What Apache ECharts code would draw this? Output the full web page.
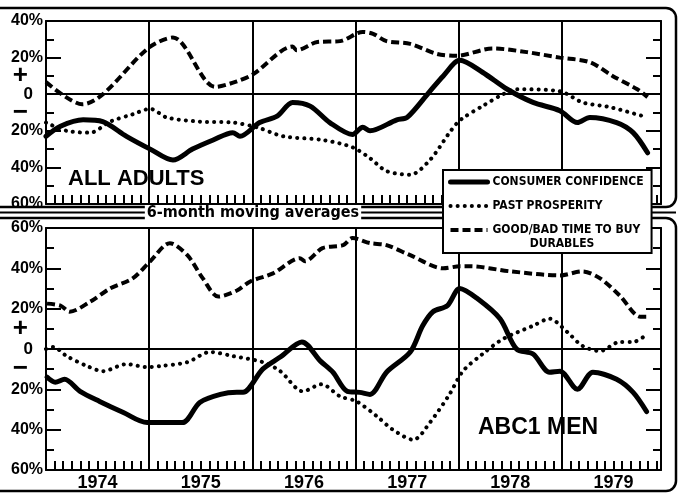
<!DOCTYPE html>
<html>
<head>
<meta charset="utf-8">
<script src="https://cdn.jsdelivr.net/npm/echarts/dist/echarts.min.js"></script>
<style>html,body{margin:0;padding:0;background:#fff}#c{width:694px;height:504px}</style>
</head>
<body>
<div id="c"></div>
<script>
// ---------- data (decimal year, percent balance) ----------
const years = ['1974', '1975', '1976', '1977', '1978', '1979'];
const seriesNames = ['CONSUMER CONFIDENCE', 'PAST PROSPERITY', 'GOOD/BAD TIME TO BUY'];
const yTicksTop = [-60, 40];
const yTicksBottom = [-60, 60];

const adultsConfidence = [[1974.0,-23],[1974.14,-17.5],[1974.36,-14],[1974.55,-15],[1974.78,-23],[1975.01,-30],[1975.23,-36],[1975.42,-30],[1975.62,-25],[1975.81,-21],[1975.88,-23],[1976.07,-15.5],[1976.24,-12],[1976.39,-4.5],[1976.56,-6.5],[1976.75,-15.5],[1976.97,-22],[1977.07,-18],[1977.14,-20],[1977.40,-14],[1977.50,-12.7],[1977.72,1.6],[1977.85,10],[1978.01,18.5],[1978.23,12],[1978.47,2.7],[1978.72,-4.5],[1978.98,-9],[1979.15,-15.5],[1979.27,-12.7],[1979.53,-15.5],[1979.69,-21],[1979.83,-32]];
const adultsProsperity = [[1974.0,-15.5],[1974.20,-20],[1974.43,-21],[1974.62,-15],[1974.84,-11],[1975.01,-8],[1975.17,-12.7],[1975.49,-15],[1975.81,-15.5],[1976.04,-18],[1976.30,-23],[1976.68,-25],[1976.97,-29],[1977.14,-35],[1977.30,-42],[1977.53,-44],[1977.72,-36],[1977.91,-21],[1977.98,-16],[1978.04,-13],[1978.23,-6.5],[1978.43,0],[1978.56,2.7],[1978.98,1.6],[1979.20,-4.5],[1979.46,-7],[1979.83,-12.7]];
const adultsDurables = [[1974.0,6.6],[1974.35,-5.5],[1975.01,26],[1975.23,31],[1975.64,4],[1975.85,7],[1976.01,11],[1976.39,26],[1976.43,24],[1976.63,28.5],[1976.85,29],[1977.07,34],[1977.17,33],[1977.30,29],[1977.53,27.5],[1977.79,22],[1977.98,21],[1978.33,25],[1978.66,23],[1978.98,20],[1979.27,17.5],[1979.49,10],[1979.73,2.7],[1979.83,-1.6]];

const menConfidence = [[1974.01,-14],[1974.09,-16.5],[1974.18,-15],[1974.33,-21],[1974.52,-26],[1974.75,-31.5],[1974.98,-36.5],[1975.32,-36.5],[1975.49,-26.5],[1975.69,-22.5],[1975.85,-21.5],[1975.91,-21.5],[1976.10,-10],[1976.27,-4],[1976.48,3.5],[1976.66,-6],[1976.78,-11.5],[1976.92,-21],[1977.04,-21.5],[1977.14,-22.5],[1977.30,-11.5],[1977.53,-1.5],[1977.65,11.5],[1977.75,18.5],[1977.89,21.5],[1978.01,30],[1978.18,25],[1978.40,15],[1978.56,0],[1978.72,-2.5],[1978.88,-11.5],[1978.98,-11],[1979.15,-20],[1979.30,-11.5],[1979.53,-15],[1979.69,-21.5],[1979.82,-31]];
const menProsperity = [[1974.0,0],[1974.07,1],[1974.20,-3.5],[1974.40,-8.5],[1974.55,-11],[1974.78,-7.5],[1974.98,-9],[1975.10,-8.5],[1975.37,-6.5],[1975.59,-1.5],[1975.81,-3.5],[1976.10,-6.5],[1976.27,-11],[1976.49,-21],[1976.67,-17.5],[1976.85,-23.5],[1977.01,-26],[1977.21,-33.5],[1977.36,-40],[1977.56,-45],[1977.72,-36.5],[1977.91,-22.5],[1978.04,-11],[1978.23,-2.5],[1978.43,5],[1978.72,11.5],[1978.88,15],[1979.05,8.5],[1979.20,1.5],[1979.37,-1],[1979.56,3.5],[1979.69,3.5],[1979.83,7.5]];
const menDurables = [[1974.01,22.5],[1974.14,21.5],[1974.23,18.5],[1974.43,23.5],[1974.62,30],[1974.84,35],[1975.01,43.5],[1975.20,52.5],[1975.37,46.5],[1975.52,35],[1975.67,26],[1975.85,29],[1975.98,33.5],[1976.20,37.5],[1976.46,45],[1976.51,43.5],[1976.68,50],[1976.88,51.5],[1976.97,55],[1977.14,52.5],[1977.30,51.5],[1977.53,46.5],[1977.85,40],[1978.01,41],[1978.11,41],[1978.50,38.5],[1978.98,36.5],[1979.20,38.5],[1979.37,35],[1979.56,26.5],[1979.76,16],[1979.83,16]];

// ---------- styling ----------
const BOLD = '"Liberation Sans", Arial, sans-serif';
const NARROW = '"Liberation Sans Narrow", "DejaVu Sans Condensed", "Arial Narrow", sans-serif';
const INK = '#000';
const xMin = 1974, xMax = 1979.96;

const solidStyle = {color: INK, width: 5, cap: 'round', join: 'round'};
const dottedStyle = {color: INK, width: 4, type: [0.1, 7], cap: 'round'};
const dashedStyle = {color: INK, width: 4, type: [8, 4]};

function baseX(gi) {
  return {type: 'value', gridIndex: gi, min: xMin, max: xMax, interval: 1, position: 'bottom',
    axisLine: {show: true, onZero: false, lineStyle: {color: INK, width: 2}},
    axisTick: {show: false, inside: true},
    minorTick: {show: true, splitNumber: 12, length: 9, lineStyle: {color: INK, width: 2}},
    axisLabel: {show: false},
    splitLine: {show: true, lineStyle: {color: INK, width: 2}}};
}
function topX(gi) {
  return {type: 'value', gridIndex: gi, min: xMin, max: xMax, position: 'top',
    axisLine: {show: true, onZero: false, lineStyle: {color: INK, width: 2}},
    axisTick: {show: false}, axisLabel: {show: false}, splitLine: {show: false}};
}
function yearX(gi) {
  return {type: 'value', gridIndex: gi, min: xMin, max: xMax, interval: 0.5, position: 'bottom',
    axisLine: {show: false, onZero: false}, axisTick: {show: false}, splitLine: {show: false},
    axisLabel: {show: true, margin: 4, color: INK, fontFamily: BOLD, fontWeight: 'bold', fontSize: 18,
      formatter: v => Math.abs(v - Math.floor(v) - 0.5) < 0.01 ? years[Math.floor(v) - 1974] : ''}};
}
function leftY(gi, ext) {
  return {type: 'value', gridIndex: gi, min: ext[0], max: ext[1], interval: 20, position: 'left',
    axisLine: {show: true, onZero: false, lineStyle: {color: INK, width: 2}},
    axisTick: {show: true, inside: true, length: 15, lineStyle: {color: INK, width: 2}},
    minorTick: {show: true, splitNumber: 2, length: 8, lineStyle: {color: INK, width: 2}},
    splitLine: {show: false},
    axisLabel: {show: true, margin: 3, color: INK, fontFamily: BOLD, fontWeight: 'bold', fontSize: 16,
      formatter: v => v === 0 ? '' : Math.abs(v) + '%'}};
}
function signY(gi, ext) {
  return {type: 'value', gridIndex: gi, min: ext[0], max: ext[1], interval: 10, position: 'left',
    axisLine: {show: false, onZero: false}, axisTick: {show: false}, splitLine: {show: false},
    axisLabel: {show: true, margin: 13, color: INK, fontFamily: BOLD, fontWeight: 'bold', fontSize: 17,
      formatter: v => v === 10 ? '{s|+}' : v === -10 ? '{s|\u2212}' : v === 0 ? '0' : '',
      rich: {s: {fontSize: 26, fontWeight: 'bold', fontFamily: BOLD, color: INK, padding: [0, 5, 0, 0]}}}};
}
function rightY(gi, ext) {
  return {type: 'value', gridIndex: gi, min: ext[0], max: ext[1], interval: 20, position: 'right',
    axisLine: {show: true, onZero: false, lineStyle: {color: INK, width: 2}},
    axisTick: {show: true, inside: true, length: 15, lineStyle: {color: INK, width: 2}},
    minorTick: {show: true, splitNumber: 2, length: 8, lineStyle: {color: INK, width: 2}},
    splitLine: {show: false}, axisLabel: {show: false}};
}
function line(name, data, xi, yi, style, zeroLine) {
  const s = {name, type: 'line', xAxisIndex: xi, yAxisIndex: yi, data, symbol: 'none', smooth: 0.3,
    lineStyle: style, itemStyle: {color: INK}, silent: true, animation: false};
  if (zeroLine) {
    s.markLine = {silent: true, symbol: 'none', label: {show: false},
      lineStyle: {color: INK, width: 2, type: 'solid'}, data: [{yAxis: 0}]};
  }
  return s;
}

const chart = echarts.init(document.getElementById('c'), null, {renderer: 'canvas'});
chart.setOption({
  backgroundColor: '#fff',
  animation: false,
  grid: [
    {left: 46, right: 33, top: 21, height: 183},
    {left: 46, right: 33, top: 228, height: 242}
  ],
  xAxis: [baseX(0), topX(0), baseX(1), topX(1), yearX(1)],
  yAxis: [leftY(0, yTicksTop), signY(0, yTicksTop), rightY(0, yTicksTop),
          leftY(1, yTicksBottom), signY(1, yTicksBottom), rightY(1, yTicksBottom)],
  legend: {
    left: 443, top: 170, orient: 'vertical', itemGap: 12, itemWidth: 37, itemHeight: 10,
    padding: [6, 8, 17, 5], backgroundColor: '#fff', borderColor: INK, borderWidth: 2,
    selectedMode: false,
    itemStyle: {opacity: 0},
    textStyle: {color: INK, fontFamily: NARROW, fontWeight: 'bold', fontSize: 12},
    data: [
      {name: seriesNames[0], lineStyle: {width: 5, type: 'solid'}},
      {name: seriesNames[1], lineStyle: {width: 4}},
      {name: seriesNames[2], lineStyle: {width: 4}}
    ]
  },
  series: [
    line(seriesNames[2], adultsDurables, 0, 0, dashedStyle, true),
    line(seriesNames[1], adultsProsperity, 0, 0, dottedStyle, false),
    line(seriesNames[0], adultsConfidence, 0, 0, solidStyle, false),
    line(seriesNames[2], menDurables, 2, 3, dashedStyle, true),
    line(seriesNames[1], menProsperity, 2, 3, dottedStyle, false),
    line(seriesNames[0], menConfidence, 2, 3, solidStyle, false)
  ],
  graphic: [
    {type: 'rect', z: 1, shape: {x: -6, y: 8, width: 682, height: 199, r: [0, 10, 10, 0]},
      style: {fill: null, stroke: INK, lineWidth: 2.5}},
    {type: 'rect', z: 1, shape: {x: -6, y: 218, width: 682, height: 273, r: [0, 10, 10, 0]},
      style: {fill: null, stroke: INK, lineWidth: 2.5}},
    {type: 'line', z: 1, shape: {x1: 0, y1: 212.5, x2: 676, y2: 212.5}, style: {stroke: INK, lineWidth: 2}},
    {type: 'text', z: 10, x: 253, y: 213,
      style: {text: '6-month moving averages', fill: INK, font: 'bold 16px ' + NARROW,
        align: 'center', verticalAlign: 'middle', backgroundColor: '#fff', padding: [0, 2]}},
    {type: 'text', z: 10, x: 68, y: 179,
      style: {text: 'ALL ADULTS', fill: INK, font: 'bold 22px ' + BOLD, align: 'left', verticalAlign: 'middle'}},
    {type: 'text', z: 10, x: 478, y: 428,
      style: {text: 'ABC1 MEN', fill: INK, font: 'bold 23px ' + BOLD, align: 'left', verticalAlign: 'middle'}},
    {type: 'text', z: 10, x: 562, y: 244,
      style: {text: 'DURABLES', fill: INK, font: 'bold 12px ' + NARROW, align: 'center', verticalAlign: 'middle'}}
  ]
});
</script>
</body>
</html>
